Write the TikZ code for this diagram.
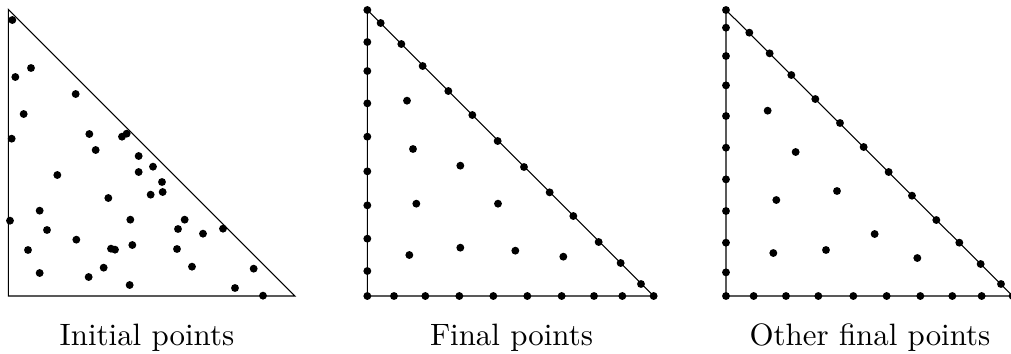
\documentclass[tikz,border=0pt]{standalone}
\begin{document}
\begin{tikzpicture}[x=0.33pt,y=-0.33pt,
  edge/.style={line width=0.35pt,black},
  dot/.style={fill=black},
  lbl/.style={anchor=base,inner sep=0pt,font=\fontsize{10.2}{12}\selectfont}]
\useasboundingbox (0,0) rectangle (1011,353);
\def\dr{1.3pt}
% ---- Triangle 1 (zoom coords, factor 1/3) ----
\begin{scope}[x=0.11pt,y=-0.11pt]
  \draw[edge] (25,28) -- (25,888) -- (885,888) -- cycle;
  \foreach \px/\py in {37/60,93/204,46/231,227/282,71/342,35/416,268/402,366/410,380/401,
    287/450,416/468,459/500,416/516,172/525,486/546,488/576,452/584,325/594,119/632,30/662,
    391/659,554/659,141/690,534/687,669/686,609/701,229/719,84/750,333/746,345/749,397/735,
    531/747,311/803,576/800,761/806,119/819,266/831,389/855,705/864,789/887}
    \fill[dot] (\px,\py) circle[radius=\dr];
\end{scope}
% ---- Triangle 2 ----
\begin{scope}[xshift=117.15pt,x=0.11pt,y=-0.11pt]
  \draw[edge] (37,30) -- (37,888) -- (896,888) -- cycle;
  \foreach \py in {30,126,213,310,410,514,616,716,813,888}
    \fill[dot] (37,\py) circle[radius=\dr];
  \foreach \px in {117,211,313,415,517,620,717,802,896}
    \fill[dot] (\px,888) circle[radius=\dr];
  \foreach \px/\py in {77/69,139/132,203/198,280/273,352/345,428/423,507/501,584/577,
    655/648,731/726,797/789,858/852}
    \fill[dot] (\px,\py) circle[radius=\dr];
  \foreach \px/\py in {156/302,174/447,316/497,184/611,429/611,163/765,316/743,481/752,625/770}
    \fill[dot] (\px,\py) circle[radius=\dr];
\end{scope}
% ---- Triangle 3 ----
\begin{scope}[xshift=234.3pt,x=0.11pt,y=-0.11pt]
  \draw[edge] (48,30) -- (48,888) -- (908,888) -- cycle;
  \foreach \py in {30,83,168,256,348,443,538,633,728,817,888}
    \fill[dot] (48,\py) circle[radius=\dr];
  \foreach \px in {131,228,325,430,530,631,727,815,908}
    \fill[dot] (\px,888) circle[radius=\dr];
  \foreach \px/\py in {118/98,179/160,244/225,316/297,390/369,461/441,536/516,606/587,
    679/660,748/728,812/792,873/852}
    \fill[dot] (\px,\py) circle[radius=\dr];
  \foreach \px/\py in {173/332,257/456,381/573,199/600,494/702,190/759,348/750,622/774}
    \fill[dot] (\px,\py) circle[radius=\dr];
\end{scope}
% ---- Labels ----
\node[lbl] (l1) at (147,345.5) {Initial points};
\node[lbl] (l2) at (511.5,345.5) {Final points};
\node[lbl] (l3) at (870,345.5) {Other final points};
\end{tikzpicture}
\end{document}
